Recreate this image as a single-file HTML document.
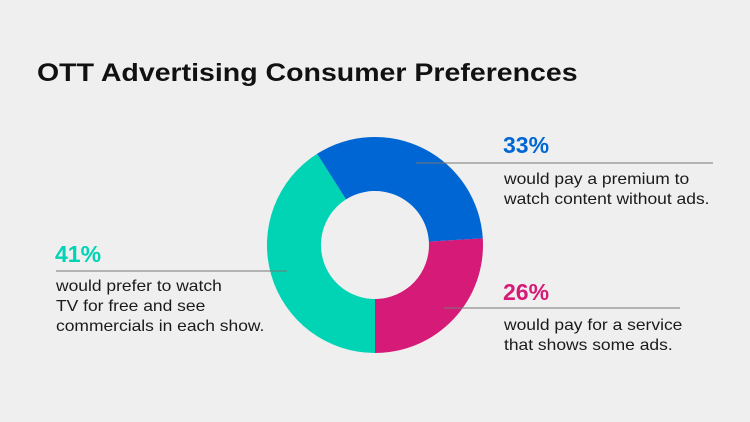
<!DOCTYPE html>
<html><head><style>
body{margin:0;width:750px;height:422px;background:#efefef;font-family:"Liberation Sans",sans-serif;position:relative;overflow:hidden}
.t{position:absolute;white-space:nowrap;transform-origin:0 0}
.h{font-size:25px;font-weight:bold;color:#111;transform:scaleX(1.14)}
.p{font-size:23px;font-weight:bold;line-height:26px}
.d{font-size:16px;color:#1a1a1a;line-height:20px;transform:scaleX(1.09)}
</style></head><body>
<div class="t h" style="left:37px;top:59px">OTT Advertising Consumer Preferences</div>
<svg width="750" height="422" style="position:absolute;left:0;top:0">
<g transform="translate(375,245)">
<path d="M107.79,-6.78 A108,108 0 0 1 0,108 L0,54 A54,54 0 0 0 53.89,-3.39Z" fill="#d61a78"/>
<path d="M0,108 A108,108 0 0 1 -57.9,-91.2 L-28.95,-45.6 A54,54 0 0 0 0,54Z" fill="#00d4b4"/>
<path d="M-57.9,-91.2 A108,108 0 0 1 107.79,-6.78 L53.89,-3.39 A54,54 0 0 0 -28.95,-45.6Z" fill="#0066d4"/>
</g>
<line x1="416" y1="163" x2="713" y2="163" stroke="#777" stroke-width="1"/>
<line x1="444" y1="308" x2="680" y2="308" stroke="#777" stroke-width="1"/>
<line x1="56" y1="271" x2="287" y2="271" stroke="#777" stroke-width="1"/>
</svg>
<div class="t p" style="left:503px;top:132px;color:#0066d4">33%</div>
<div class="t d" style="left:504px;top:170px">would pay a premium to<br>watch content without ads.</div>
<div class="t p" style="left:503px;top:279px;color:#d61a78">26%</div>
<div class="t d" style="left:504px;top:316px">would pay for a service<br>that shows some ads.</div>
<div class="t p" style="left:55px;top:241px;color:#00d4b4">41%</div>
<div class="t d" style="left:56px;top:277px">would prefer to watch<br>TV for free and see<br>commercials in each show.</div>
</body></html>
